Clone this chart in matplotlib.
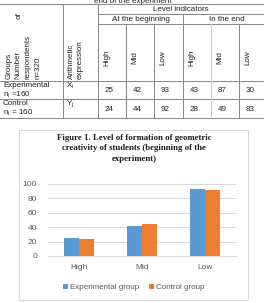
import matplotlib
matplotlib.use("Agg")
import matplotlib.pyplot as plt
from matplotlib.lines import Line2D
from matplotlib.patches import Rectangle
import numpy as np

# ---- data ----
levels = ["High", "Mid", "Low"]
exp_begin = [25, 42, 93]
ctrl_begin = [24, 44, 92]
exp_end = [43, 87, 30]
ctrl_end = [28, 49, 83]
series_names = ["Experimental group", "Control group"]
yticks = [0, 20, 40, 60, 80, 100]

W, H = 264, 303
fig = plt.figure(figsize=(W / 100, H / 100), dpi=100)
fig.patch.set_facecolor("white")

def fx(x):
    return x / W

def fy(y):
    return 1 - y / H

def T(x, y, s, **kw):
    kw.setdefault("family", "Liberation Sans")
    kw.setdefault("fontsize", 5.8)
    kw.setdefault("color", "#222222")
    fig.text(fx(x), fy(y), s, **kw)

def L(x0, y0, x1, y1, c="#8a8a8a", lw=0.75):
    fig.add_artist(Line2D([fx(x0), fx(x1)], [fy(y0), fy(y1)], color=c, lw=lw,
                          transform=fig.transFigure))

# ---- table ----
T(133, 3, "end of the experiment", ha="center", va="baseline")
# horizontal lines
L(0, 4, 264, 4)
L(98, 14, 264, 14)
L(98, 24, 264, 24)
L(0, 81, 264, 81)
L(0, 99.5, 264, 99.5)
L(0, 118, 264, 118)
# vertical lines
L(63, 4, 63, 118)
L(98, 4, 98, 118)
L(183, 14, 183, 118)
for xv in [126, 154, 239]:
    L(xv, 24, xv, 118)
L(211, 24, 211, 118, c="#c8c8c8")

T(181, 9.5, "Level indicators", ha="center", va="center")
T(140.5, 19.5, "At the beginning", ha="center", va="center")
T(227, 19.5, "In the end", ha="center", va="center")

# rotated header texts
T(9, 79, "Groups", rotation=90, ha="center", va="bottom")
T(18, 79, "Number", rotation=90, ha="center", va="bottom")
T(19.5, 12, "of", rotation=90, ha="center", va="top")
T(28.5, 79, "respondents", rotation=90, ha="center", va="bottom")
T(38, 79, "n=320", rotation=90, ha="center", va="bottom")
T(71, 79, "Arithmetic", rotation=90, ha="center", va="bottom")
T(80.5, 79, "expression", rotation=90, ha="center", va="bottom")

col_left = [98, 126, 154, 183, 211, 239]
for i, xl in enumerate(col_left):
    T(xl + 9, 57.5, levels[i % 3], rotation=90, ha="center", va="center")

T(3, 85.5, "Experimental", ha="left", va="center")
T(3, 95, "n$_\\mathregular{i}$ =160", ha="left", va="center")
T(3, 103.5, "Control", ha="left", va="center")
T(3, 113, "n$_\\mathregular{i}$ = 160", ha="left", va="center")
T(66, 86, "X$_\\mathregular{i}$", ha="left", va="center")
T(66, 104, "Y$_\\mathregular{j}$", ha="left", va="center")

row_exp = exp_begin + exp_end
row_ctrl = ctrl_begin + ctrl_end
for i, xl in enumerate(col_left):
    T(xl + 7, 90.5, str(row_exp[i]), ha="left", va="center")
    T(xl + 7, 110, str(row_ctrl[i]), ha="left", va="center")

# ---- chart box ----
fig.add_artist(Rectangle((fx(19), fy(300)), fx(248) - fx(19), fy(130) - fy(300),
                         transform=fig.transFigure, fill=False, ec="#d9d9d9", lw=0.75))

T(134, 137.5, "Figure 1. Level of formation of geometric", family="Liberation Serif",
  fontweight="bold", fontsize=6.3, ha="center", va="center", color="#1a1a1a")
T(134, 148, "creativity of students (beginning of the", family="Liberation Serif",
  fontweight="bold", fontsize=6.3, ha="center", va="center", color="#1a1a1a")
T(134, 159, "experiment)", family="Liberation Serif",
  fontweight="bold", fontsize=6.3, ha="center", va="center", color="#1a1a1a")

ax = fig.add_axes([fx(48), fy(256), fx(236) - fx(48), fy(184) - fy(256)])
x = np.arange(len(levels))
bw = 0.24
ax.bar(x - bw / 2, exp_begin, bw, color="#5B9BD5", label=series_names[0], zorder=3)
ax.bar(x + bw / 2, ctrl_begin, bw, color="#ED7D31", label=series_names[1], zorder=3)
ax.set_xlim(-0.5, 2.5)
ax.set_ylim(0, 100)
ax.set_yticks(yticks)
ax.set_xticks(x)
ax.set_xticklabels(levels)
ax.yaxis.grid(True, color="#d9d9d9", lw=0.75, zorder=0)
for s in ["top", "right", "left"]:
    ax.spines[s].set_visible(False)
ax.spines["bottom"].set_color("#d9d9d9")
ax.spines["bottom"].set_linewidth(0.75)
ax.tick_params(length=0, labelsize=6, labelcolor="#595959")
ax.tick_params(axis="y", pad=8)
ax.tick_params(axis="x", pad=6)
for lab in ax.get_xticklabels() + ax.get_yticklabels():
    lab.set_family("Liberation Sans")

leg = fig.legend(loc="center", bbox_to_anchor=(fx(134), fy(287.5)), ncol=2, frameon=False,
                 prop={"family": "Liberation Sans", "size": 5.8}, handlelength=0.55,
                 handleheight=0.55, handletextpad=0.3, columnspacing=1.2)
for t in leg.get_texts():
    t.set_color("#595959")

fig.savefig("out.png", dpi=100, facecolor="white")
